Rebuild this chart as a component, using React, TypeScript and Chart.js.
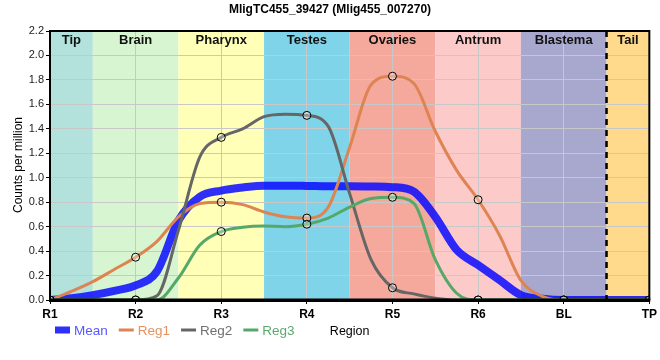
import React, { useEffect, useRef } from 'react';
import { Chart, registerables } from 'chart.js';

Chart.register(...registerables);

const FONT = '"Liberation Sans", Arial, sans-serif';

const chartTitle = 'MligTC455_39427 (Mlig455_007270)';
const yTitle = 'Counts per million';
const xTitle = 'Region';

const xLabels = ['R1', 'R2', 'R3', 'R4', 'R5', 'R6', 'BL', 'TP'];

const bandNames = ['Tip', 'Brain', 'Pharynx', 'Testes', 'Ovaries', 'Antrum', 'Blastema', 'Tail'];
const bandStarts = [0, 0.5, 1.5, 2.5, 3.5, 4.5, 5.5, 6.5];
const bandEnds = [0.5, 1.5, 2.5, 3.5, 4.5, 5.5, 6.5, 7];
const bandColors = ['#b3e2dd', '#d7f5d0', '#ffffb8', '#7fd4ea', '#f4a99c', '#fdcaca', '#a8a8cf', '#ffd98c'];
const dashedAt = 6.5;

// positions along the region axis where the smoothed curves were read
const samplePositions = [0, 0.25, 0.5, 0.75, 1, 1.25, 1.5, 1.75, 2, 2.25, 2.5, 2.75, 3, 3.25, 3.5, 3.75, 4, 4.25, 4.5, 4.75, 5, 5.25, 5.5, 5.75, 6, 6.25, 6.5, 6.75, 7];

const meanValues = [0, 0.015, 0.04, 0.075, 0.12, 0.235, 0.65, 0.845, 0.895, 0.92, 0.935, 0.935, 0.933, 0.93, 0.93, 0.928, 0.923, 0.886, 0.68, 0.41, 0.286, 0.163, 0.04, 0.01, 0, 0, 0, 0, 0];
const reg1Values = [0, 0.07, 0.15, 0.25, 0.35, 0.48, 0.68, 0.79, 0.8, 0.78, 0.72, 0.68, 0.67, 0.76, 1.25, 1.76, 1.83, 1.77, 1.38, 1.06, 0.82, 0.53, 0.16, 0.03, 0, 0, 0, 0, 0];
const reg2Values = [0, 0, 0, 0, 0, 0.035, 0.57, 1.17, 1.33, 1.4, 1.5, 1.52, 1.51, 1.42, 0.87, 0.33, 0.1, 0.05, 0.015, 0, 0, 0, 0, 0, 0, 0, 0, 0, 0];
const reg3Values = [0, 0, 0, 0, 0, 0, 0.18, 0.45, 0.56, 0.595, 0.605, 0.6, 0.62, 0.67, 0.76, 0.83, 0.84, 0.79, 0.33, 0.055, 0, 0, 0, 0, 0, 0, 0, 0, 0];

const seriesLabels = ['Mean', 'Reg1', 'Reg2', 'Reg3'];
const seriesColors = ['rgba(10,10,255,0.85)', '#dd8452', '#666666', '#55a868'];
const legendTextColors = ['rgba(70,70,255,0.9)', 'rgba(225,140,90,0.95)', '#6f6f6f', 'rgba(90,170,110,1)'];
const seriesWidths = [8, 3, 3, 3];

const decorPlugin = {
  id: 'decor',
  beforeDraw(chart: any) {
    const { ctx, chartArea, scales } = chart;
    const x = scales.x;
    ctx.save();
    for (let i = 0; i < bandNames.length; i++) {
      const l = x.getPixelForValue(bandStarts[i]);
      const r = x.getPixelForValue(bandEnds[i]);
      ctx.fillStyle = bandColors[i];
      ctx.fillRect(l, chartArea.top, r - l, chartArea.bottom - chartArea.top);
    }
    ctx.restore();
  },
  beforeDatasetsDraw(chart: any) {
    const { ctx, chartArea, scales } = chart;
    const x = scales.x;
    ctx.save();
    ctx.font = 'bold 13px ' + FONT;
    ctx.fillStyle = '#111';
    ctx.textAlign = 'center';
    ctx.textBaseline = 'alphabetic';
    for (let i = 0; i < bandNames.length; i++) {
      const c = (x.getPixelForValue(bandStarts[i]) + x.getPixelForValue(bandEnds[i])) / 2;
      ctx.fillText(bandNames[i], c, chartArea.top + 13);
    }
    ctx.restore();
  },
  afterDatasetsDraw(chart: any) {
    const { ctx, chartArea, scales } = chart;
    const px = scales.x.getPixelForValue(dashedAt);
    ctx.save();
    ctx.strokeStyle = '#000';
    ctx.lineWidth = 2.5;
    ctx.setLineDash([6, 5]);
    ctx.beginPath();
    ctx.moveTo(px, chartArea.top);
    ctx.lineTo(px, chartArea.bottom + 4);
    ctx.stroke();
    ctx.setLineDash([]);
    // frame: top and right
    ctx.lineWidth = 2;
    ctx.beginPath();
    ctx.moveTo(chartArea.left, chartArea.top);
    ctx.lineTo(chartArea.right, chartArea.top);
    ctx.lineTo(chartArea.right, chartArea.bottom);
    ctx.stroke();
    // axis lines drawn over the series
    ctx.beginPath();
    ctx.moveTo(chartArea.left, chartArea.top);
    ctx.lineTo(chartArea.left, chartArea.bottom);
    ctx.stroke();
    ctx.lineWidth = 3;
    ctx.beginPath();
    ctx.moveTo(chartArea.left - 1, chartArea.bottom);
    ctx.lineTo(chartArea.right + 1, chartArea.bottom);
    ctx.stroke();
    ctx.restore();
  },
  afterDraw(chart: any) {
    const { ctx, chartArea } = chart;
    ctx.save();
    // title
    ctx.font = 'bold 12px ' + FONT;
    ctx.fillStyle = '#000';
    ctx.textAlign = 'center';
    ctx.textBaseline = 'alphabetic';
    ctx.fillText(chartTitle, 330, 13);
    // y title
    ctx.save();
    ctx.translate(21.5, 165);
    ctx.rotate(-Math.PI / 2);
    ctx.font = '12px ' + FONT;
    ctx.fillText(yTitle, 0, 0);
    ctx.restore();
    // legend
    ctx.font = '13.5px ' + FONT;
    ctx.textAlign = 'left';
    let lx = 55;
    const ly = 330;
    chart.data.datasets.forEach((ds: any, i: number) => {
      if (i === 0) {
        ctx.fillStyle = ds.borderColor;
        ctx.fillRect(lx, ly - 3.5, 15, 7);
      } else {
        ctx.strokeStyle = ds.borderColor;
        ctx.lineWidth = 3;
        ctx.beginPath();
        ctx.moveTo(lx, ly);
        ctx.lineTo(lx + 15, ly);
        ctx.stroke();
      }
      ctx.fillStyle = legendTextColors[i];
      ctx.fillText(ds.label, lx + 19, ly + 4.5);
      lx += 19 + ctx.measureText(ds.label).width + 11;
    });
    // x title
    ctx.font = '12.5px ' + FONT;
    ctx.fillStyle = '#000';
    ctx.textAlign = 'center';
    ctx.fillText(xTitle, (chartArea.left + chartArea.right) / 2, 335);
    ctx.restore();
  },
};

export default function App() {
  const ref = useRef<HTMLCanvasElement>(null);
  useEffect(() => {
    document.body.style.margin = '0';
    const canvas = ref.current!;
    const valuesList = [meanValues, reg1Values, reg2Values, reg3Values];
    const datasets = seriesLabels.map((label, si) => ({
      label,
      data: samplePositions.map((x, i) => ({ x, y: valuesList[si][i] })),
      borderColor: seriesColors[si],
      backgroundColor: seriesColors[si],
      borderWidth: seriesWidths[si],
      cubicInterpolationMode: 'monotone' as const,
      order: si === 0 ? 10 : 4 - si,
      pointRadius: (c: any) => (si > 0 && Number.isInteger(samplePositions[c.dataIndex]) ? 4 : 0),
      pointHoverRadius: 0,
      pointBorderColor: '#000',
      pointBorderWidth: 1,
      pointBackgroundColor: 'rgba(255,255,255,0.3)',
      fill: false,
    }));
    const chart = new Chart(canvas, {
      type: 'line',
      data: { datasets },
      options: {
        animation: false,
        responsive: false,
        events: [],
        layout: { padding: { top: 31, right: 9, left: 0, bottom: 0 } },
        plugins: { legend: { display: false }, title: { display: false }, tooltip: { enabled: false } },
        scales: {
          x: {
            type: 'linear',
            min: 0,
            max: 7,
            afterFit: (s: any) => { s.height = 60; },
            ticks: {
              stepSize: 1,
              autoSkip: false,
              maxRotation: 0,
              padding: 3,
              color: '#000',
              font: { size: 12, weight: 'bold', family: FONT },
              callback: (v: any) => xLabels[v] ?? '',
            },
            grid: { color: '#c8c8c8', tickColor: '#000', tickLength: 4, lineWidth: 1 },
            border: { display: true, color: '#000', width: 3 },
          },
          y: {
            type: 'linear',
            min: 0,
            max: 2.2,
            afterFit: (s: any) => { s.width = 50; },
            ticks: {
              stepSize: 0.2,
              padding: 2,
              color: '#222',
              font: { size: 11, family: FONT },
              callback: (v: any) => Number(v).toFixed(1),
            },
            grid: { color: '#c8c8c8', tickColor: '#000', tickLength: 4, lineWidth: 1 },
            border: { display: true, color: '#000', width: 2 },
          },
        },
      },
      plugins: [decorPlugin],
    });
    return () => chart.destroy();
  }, []);
  return <canvas ref={ref} width={660} height={360} style={{ display: 'block' }} />;
}
